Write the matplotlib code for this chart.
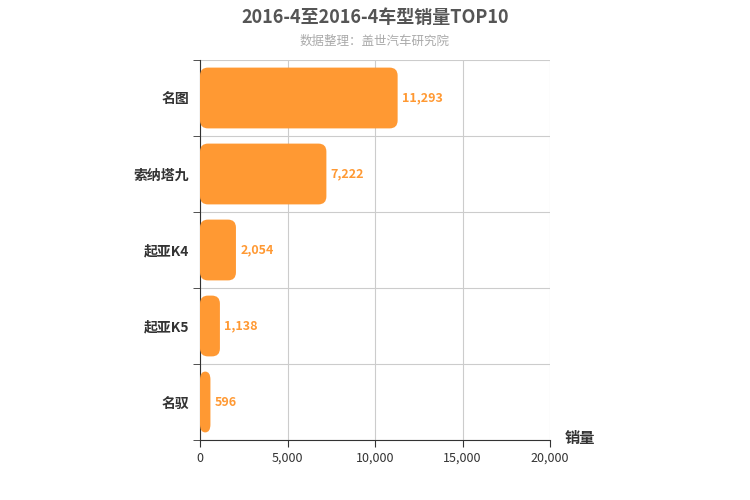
import matplotlib
matplotlib.use("Agg")
import matplotlib.pyplot as plt
from matplotlib.patches import FancyBboxPatch

plt.rcParams["font.family"] = ["Noto Sans CJK SC", "DejaVu Sans"]

categories = ["名图", "索纳塔九", "起亚K4", "起亚K5", "名驭"]
sales = [11293, 7222, 2054, 1138, 596]
xticks = [0, 5000, 10000, 15000, 20000]

fig = plt.figure(figsize=(7.5, 5), dpi=100)
ax = fig.add_axes([200/750, 60/500, 350/750, 380/500])
n = len(categories)
ax.set_xlim(0, 20000)
ax.set_ylim(n - 0.5, -0.5)

xpp = 20000 / 350  # data per px
ypp = n / 380
r_px = 8
for i, v in enumerate(sales):
    h = 0.8
    rs = min(r_px * xpp, v / 2)
    p = FancyBboxPatch((0, i - h/2), v, h,
                       boxstyle=f"round,pad=0,rounding_size={rs}",
                       mutation_aspect=(r_px * ypp) / rs if rs > 0 else 1,
                       facecolor="#ff9933", edgecolor="none", zorder=3)
    ax.add_patch(p)
    ax.text(v + 250, i, f"{v:,}", va="center", ha="left", fontsize=9,
            color="#ff9933", fontweight="bold", zorder=4)

ax.set_xticks(xticks)
ax.set_xticklabels([f"{t:,}" for t in xticks], fontsize=9, color="#333")
ax.set_yticks(range(n))
ax.set_yticklabels(categories, fontsize=10, color="#333", fontweight="bold")
ax.set_yticks([i + 0.5 for i in range(-1, n)], minor=True)
ax.tick_params(axis="y", which="major", length=0, pad=8)
ax.tick_params(axis="y", which="minor", length=5, color="#333")
ax.tick_params(axis="x", length=5, color="#333")
ax.grid(axis="x", color="#ccc", lw=0.8, zorder=0)
ax.grid(axis="y", which="minor", color="#ccc", lw=0.8, zorder=0)
for s in ["top", "right"]:
    ax.spines[s].set_visible(False)
ax.spines["left"].set_color("#333")
ax.spines["bottom"].set_color("#333")

fig.text(0.5, 0.965, "2016-4至2016-4车型销量TOP10", ha="center", va="center",
         fontsize=13, fontweight="bold", color="#555")
fig.text(0.5, 0.918, "数据整理：盖世汽车研究院", ha="center", va="center",
         fontsize=9, color="#aaa")
fig.text(565/750, 1 - 438/500, "销量", ha="left", va="center", fontsize=11,
         fontweight="bold", color="#333")

fig.savefig("out.png", dpi=100)
